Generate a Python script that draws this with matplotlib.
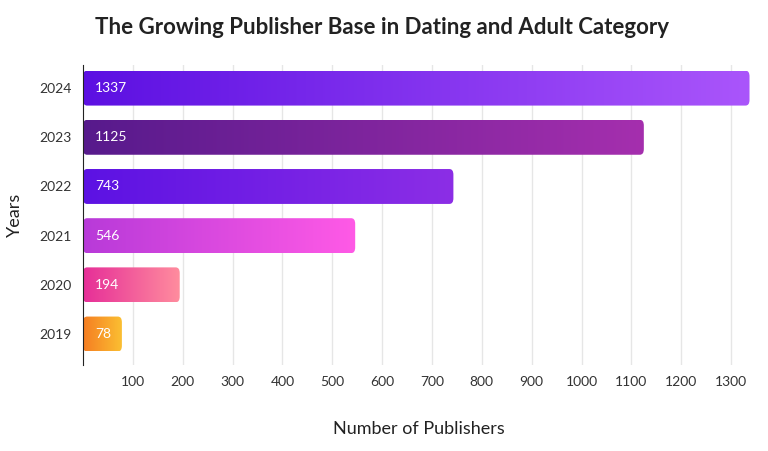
import matplotlib
matplotlib.use("Agg")
import matplotlib.pyplot as plt
import numpy as np
from matplotlib.patches import FancyBboxPatch
from matplotlib.colors import LinearSegmentedColormap

years = ["2019", "2020", "2021", "2022", "2023", "2024"]
publishers = [78, 194, 546, 743, 1125, 1337]
colors_start = ["#f57d22", "#e62e98", "#b83ad9", "#5c12e3", "#571a8c", "#5c10e2"]
colors_end = ["#fbbf32", "#ff8d9e", "#ff5ae6", "#8c2ee6", "#a52fae", "#aa55fb"]
xticks = [100, 200, 300, 400, 500, 600, 700, 800, 900, 1000, 1100, 1200, 1300]

plt.rcParams["font.family"] = "Lato"
fig = plt.figure(figsize=(7.68, 4.51), dpi=100)
ax = fig.add_axes([83/768, 1-365/451, (755-83)/768, 300/451])
ax.set_xlim(0, 1348)
ax.set_ylim(-0.63, 5.47)
h = 0.71
for i, (y, v) in enumerate(zip(years, publishers)):
    patch = FancyBboxPatch((0, i - h/2), v, h,
                           boxstyle="round,pad=0,rounding_size=8", mutation_aspect=0.0145,
                           facecolor="none", edgecolor="none")
    ax.add_patch(patch)
    cmap = LinearSegmentedColormap.from_list("g", [colors_start[i], colors_end[i]])
    im = ax.imshow(np.linspace(0, 1, 256).reshape(1, -1), cmap=cmap, aspect="auto",
                   extent=(0, v, i - h/2, i + h/2), zorder=2)
    im.set_clip_path(patch)
    ax.text(24, i, str(v), color="white", va="center", ha="left", fontsize=10, zorder=3)
ax.set_xlim(0, 1348)
ax.set_ylim(-0.63, 5.47)
ax.set_yticks(range(len(years)))
ax.set_yticklabels(years, fontsize=10, color="#333333")
ax.set_xticks(xticks)
ax.set_xticklabels([str(t) for t in xticks], fontsize=10, color="#333333")
ax.grid(axis="x", color="#e6e6e6", linewidth=1, zorder=0)
ax.set_axisbelow(True)
for s in ["top", "right", "bottom"]:
    ax.spines[s].set_visible(False)
ax.spines["left"].set_color("#222222")
ax.tick_params(axis="both", length=0, pad=8)
ax.set_xlabel("Number of Publishers", fontsize=13, labelpad=24, color="#222222")
ax.set_ylabel("Years", fontsize=13, labelpad=12, color="#222222")
fig.text(95/768, 1-28/451, "The Growing Publisher Base in Dating and Adult Category",
         fontsize=16, fontweight="bold", va="center", ha="left", color="#222222")
fig.savefig("out.png", dpi=100)
